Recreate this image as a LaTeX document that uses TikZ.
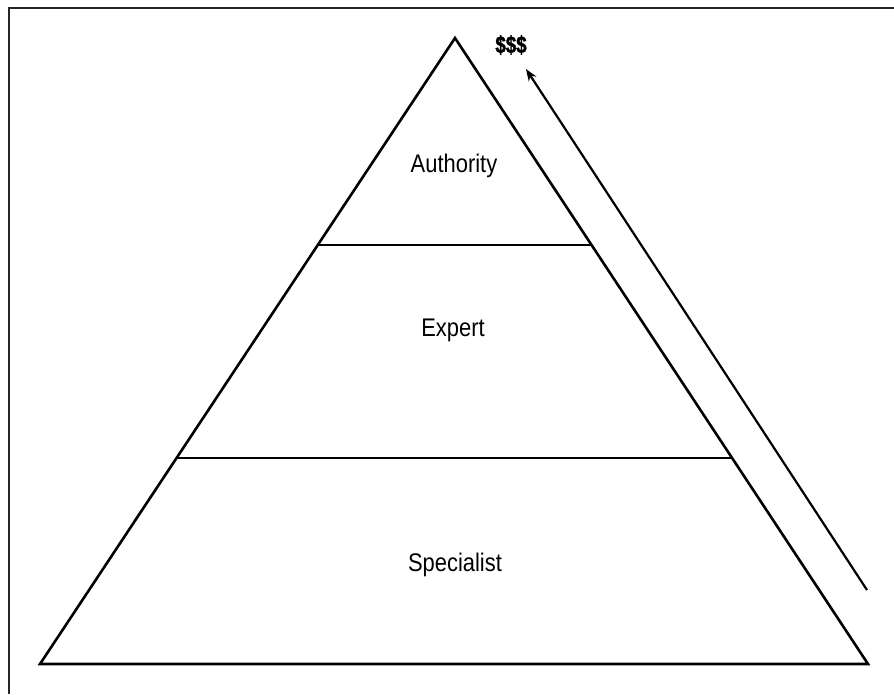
\documentclass[tikz,border=0pt]{standalone}
\usepackage{fontspec}
\setmainfont{Liberation Sans}
\newfontfamily\labfont[FakeStretch=0.86]{Liberation Sans}
\newfontfamily\moneyfont[FakeStretch=0.78,FakeBold=1.5]{Liberation Sans Bold}
\usetikzlibrary{arrows.meta,calc}
\begin{document}
\begin{tikzpicture}[x=1pt,y=-1pt,
  frameline/.style={line width=2pt,draw=black!85},
  pyr/.style={line width=2.6pt,line join=miter},
  divider/.style={line width=1.3pt},
  lab/.style={font=\labfont\fontsize{25.5}{28}\selectfont,inner sep=0pt,anchor=base},
  money/.style={font=\moneyfont\fontsize{24}{26}\selectfont,inner sep=0pt},
  rise/.style={line width=2.2pt,-{Stealth[length=12pt,width=9pt]}}]
\useasboundingbox (0,0) rectangle (894,694);
% partial frame
\draw[frameline] (9,694) -- (9,7.5) -- (894,7.5);
% pyramid
\coordinate (apex) at (455,38);
\coordinate (bl) at (40,664);
\coordinate (br) at (868,664);
\draw[pyr] (apex) -- (bl) -- (br) -- cycle;
\coordinate (d1l) at ($(apex)!0.3307!(bl)$);
\coordinate (d1r) at ($(apex)!0.3307!(br)$);
\coordinate (d2l) at ($(apex)!0.6709!(bl)$);
\coordinate (d2r) at ($(apex)!0.6709!(br)$);
\draw[divider] (d1l) -- (d1r);
\draw[divider] (d2l) -- (d2r);
% labels
\node[lab] (auth) at (454,172) {Authority};
\node[lab] (exp) at (453,336) {Expert};
\node[lab] (spec) at (455,571) {Specialist};
% arrow
\coordinate (astart) at (867,590);
\coordinate (aend) at (526,69);
\draw[rise] (astart) -- (aend);
\node[money] (dollars) at (511,45) {\$\$\$};
\end{tikzpicture}
\end{document}
